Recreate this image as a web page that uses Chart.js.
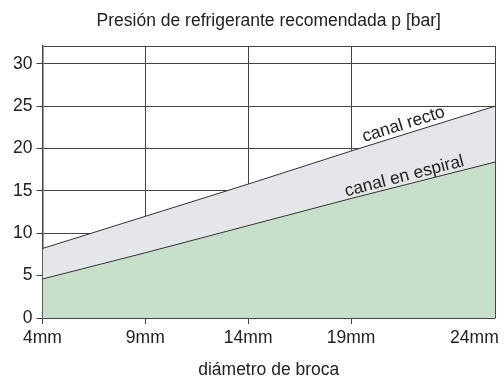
<!DOCTYPE html>
<html>
<head>
<meta charset="utf-8">
<script src="https://cdn.jsdelivr.net/npm/chart.js@4"></script>
<style>
  html, body { margin: 0; padding: 0; background: #fff; }
  #wrap { width: 504px; height: 381px; }
</style>
</head>
<body>
<div id="wrap"><canvas id="pressureChart"></canvas></div>
<script>
// diámetro de broca [mm] (the right end of the plot sits at ~26 on the axis)
var diameters = [4, 9, 14, 19, 26];
var canalRecto = [8.2, 12.0, 15.8, 19.7, 25.0];
var canalEspiral = [4.6, 7.7, 10.9, 14.1, 18.4];
var seriesNames = ['canal recto', 'canal en espiral'];

var xTickValues = [4, 9, 14, 19, 25, 26];
var xTickLabels = ['4mm', '9mm', '14mm', '19mm', '24mm', ''];
var yTickValues = [0, 5, 10, 15, 20, 25, 30, 32.1];

var chartTitle = 'Presión de refrigerante recomendada p [bar]';
var xTitle = 'diámetro de broca';

var FONT = { family: '"Liberation Sans", Arial, sans-serif', size: 17.5 };
var LINE = '#444';

function points(ys) {
    return diameters.map(function(d, i) { return { x: d, y: ys[i] }; });
}

// writes the series names along their lines
var lineLabels = {
    id: 'lineLabels',
    afterDatasetsDraw: function(chart) {
        var xs = chart.scales.x, ys = chart.scales.y, c = chart.ctx;
        chart.data.datasets.forEach(function(ds) {
            var d = ds.data;
            var p0 = { x: xs.getPixelForValue(d[0].x), y: ys.getPixelForValue(d[0].y) };
            var p1 = { x: xs.getPixelForValue(d[d.length - 1].x), y: ys.getPixelForValue(d[d.length - 1].y) };
            var ang = Math.atan2(p1.y - p0.y, p1.x - p0.x);
            var px = xs.getPixelForValue(ds.labelAt);
            var t = (px - p0.x) / (p1.x - p0.x);
            var py = p0.y + t * (p1.y - p0.y);
            c.save();
            c.translate(px, py);
            c.rotate(ang);
            c.font = FONT.size + 'px ' + FONT.family;
            c.fillStyle = '#222';
            c.textAlign = 'center';
            c.textBaseline = 'alphabetic';
            c.fillText(ds.label, 0, -ds.labelLift);
            c.restore();
        });
    }
};

var ctx = document.getElementById('pressureChart');
new Chart(ctx.getContext('2d'), {
    type: 'line',
    data: {
        datasets: [{
            label: seriesNames[1],
            data: points(canalEspiral),
            labelAt: 21.7,
            labelLift: 4,
            borderColor: '#333',
            borderWidth: 1,
            backgroundColor: '#c7dfcb',
            fill: 'origin',
            pointRadius: 0,
            tension: 0
        }, {
            label: seriesNames[0],
            data: points(canalRecto),
            labelAt: 21.7,
            labelLift: 5,
            borderColor: '#333',
            borderWidth: 1,
            backgroundColor: '#e5e6e9',
            fill: '-1',
            pointRadius: 0,
            tension: 0
        }]
    },
    options: {
        responsive: true,
        maintainAspectRatio: false,
        animation: false,
        layout: { padding: { left: 9, right: 9, top: 0, bottom: 0 } },
        plugins: {
            legend: { display: false },
            tooltip: { enabled: false }
        },
        scales: {
            x: {
                type: 'linear',
                min: 4,
                max: 26,
                afterBuildTicks: function(scale) {
                    scale.ticks = xTickValues.map(function(v) { return { value: v }; });
                },
                ticks: {
                    autoSkip: false,
                    maxRotation: 0,
                    padding: 4,
                    color: '#222',
                    font: FONT,
                    callback: function(v) {
                        var i = xTickValues.indexOf(v);
                        return i >= 0 ? xTickLabels[i] : '';
                    }
                },
                grid: {
                    color: function(c) { return c.tick && c.tick.value === 25 ? 'rgba(0,0,0,0)' : LINE; },
                    tickColor: function(c) { return c.tick && c.tick.value > 19 ? 'rgba(0,0,0,0)' : LINE; },
                    tickLength: 6,
                    lineWidth: 1
                },
                border: { display: true, color: LINE, width: 1.5 },
                title: {
                    display: true,
                    text: xTitle,
                    color: '#222',
                    font: FONT,
                    padding: { top: 7, bottom: 0 }
                }
            },
            xTop: {
                type: 'linear',
                position: 'top',
                min: 4,
                max: 26,
                grid: { display: false, drawTicks: false },
                ticks: { display: false },
                border: { display: false },
                title: {
                    display: true,
                    text: chartTitle,
                    color: '#222',
                    font: FONT,
                    padding: { top: 11, bottom: 14 }
                }
            },
            y: {
                min: 0,
                max: 32.1,
                afterBuildTicks: function(scale) {
                    scale.ticks = yTickValues.map(function(v) { return { value: v }; });
                },
                ticks: {
                    padding: 4,
                    color: '#222',
                    font: FONT,
                    callback: function(v) { return v % 5 === 0 ? String(v) : ''; }
                },
                grid: {
                    color: LINE,
                    tickColor: function(c) { return c.tick && c.tick.value > 30 ? 'rgba(0,0,0,0)' : LINE; },
                    tickLength: 6,
                    lineWidth: 1
                },
                border: { display: true, color: LINE, width: 1.5 }
            }
        }
    },
    plugins: [lineLabels]
});
</script>
</body>
</html>
